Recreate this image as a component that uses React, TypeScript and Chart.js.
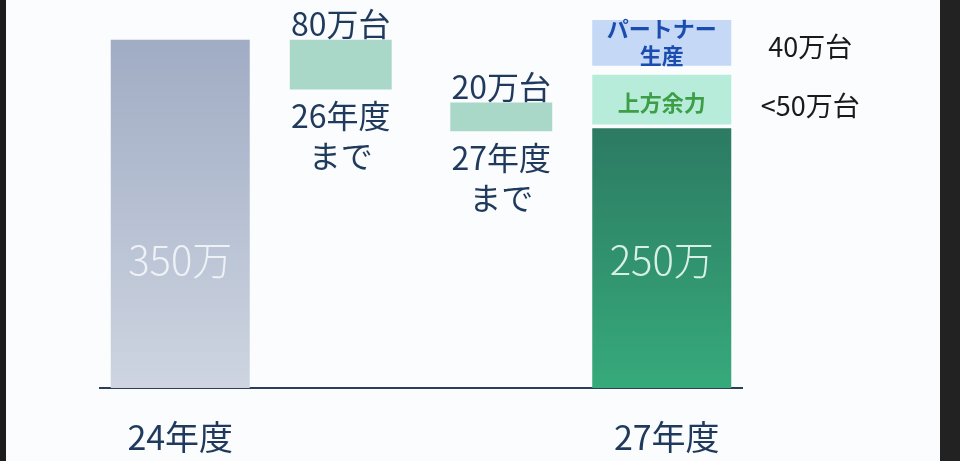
import { useEffect, useRef } from "react";
import { Chart, registerables } from "chart.js";
Chart.register(...registerables);

// values in 万台 (schematic scale)
const categories = ["24年度", "26年度まで", "27年度まで", "27年度"];
const axisLabels = ["24年度", "", "", "27年度"];
const totals = [350, null, null, 261];
const totalLabels = ["350万", "", "", "250万"];
const steps = [null, [300, 350], [258, 287], null];
const stepLabels = ["", "80万台", "20万台", ""];
const stepNotes = [[], ["26年度", "まで"], ["27年度", "まで"], []];
const upside = [null, null, null, [265, 315]];
const partner = [null, null, null, [324, 370]];
const boxLabels = { upside: ["上方余力"], partner: ["パートナー", "生産"] };
const sideLabels = ["40万台", "<50万台"];

const FONT = '"Noto Sans CJK JP", "Noto Sans", sans-serif';

const labelPlugin = {
  id: "labels",
  afterDatasetsDraw(chart: any) {
    const ctx = chart.ctx;
    ctx.save();
    ctx.textAlign = "center";
    ctx.textBaseline = "middle";

    chart.getDatasetMeta(0).data.forEach((bar: any, i: number) => {
      if (!totalLabels[i]) return;
      ctx.font = `300 40px ${FONT}`;
      ctx.fillStyle = i === 0 ? "rgba(240,243,248,0.95)" : "rgba(225,245,235,0.95)";
      ctx.fillText(totalLabels[i], bar.x, bar.base - 128);
    });

    // category labels under the axis
    const xs = chart.scales.x;
    ctx.font = `34px ${FONT}`;
    ctx.fillStyle = "#1f3a5c";
    axisLabels.forEach((t, i) => {
      if (t) ctx.fillText(t, xs.getPixelForValue(i) + (i === 3 ? 5 : 0), chart.chartArea.bottom + 49);
    });

    chart.getDatasetMeta(1).data.forEach((bar: any, i: number) => {
      if (!stepLabels[i]) return;
      ctx.font = `32px ${FONT}`;
      ctx.fillStyle = "#1f3a5c";
      ctx.fillText(stepLabels[i], bar.x, bar.y - 16);
      stepNotes[i].forEach((t, k) => {
        ctx.fillText(t, bar.x, bar.base + 26 + k * 40);
      });
    });

    const up = chart.getDatasetMeta(2).data[3];
    const pa = chart.getDatasetMeta(3).data[3];
    ctx.font = `bold 22px ${FONT}`;
    ctx.fillStyle = "#3d9e47";
    ctx.fillText(boxLabels.upside[0], up.x, (up.y + up.base) / 2 + 3);
    ctx.fillStyle = "#1b4db0";
    const pm = (pa.y + pa.base) / 2;
    ctx.fillText(boxLabels.partner[0], pa.x, pm - 14);
    ctx.fillText(boxLabels.partner[1], pa.x, pm + 13);

    ctx.font = `27px ${FONT}`;
    ctx.fillStyle = "#1a1a1a";
    const sx = pa.x + pa.width / 2 + 79;
    ctx.fillText(sideLabels[0], sx, pm + 4);
    ctx.fillText(sideLabels[1], sx, (up.y + up.base) / 2 + 6);
    ctx.restore();
  },
};

function barGradient(ctx: any, top: string, bottom: string, fallback: string) {
  const chart = ctx.chart;
  const y = chart.scales?.y;
  const v = ctx.raw;
  if (!y || v == null || !chart.chartArea) return fallback;
  const g = chart.ctx.createLinearGradient(0, y.getPixelForValue(v), 0, y.getPixelForValue(0));
  g.addColorStop(0, top);
  g.addColorStop(1, bottom);
  return g;
}

export default function App() {
  const chartRef = useRef<HTMLCanvasElement>(null);
  const chartInstance = useRef<Chart | null>(null);

  useEffect(() => {
    if (!chartRef.current) return;
    if (chartInstance.current) chartInstance.current.destroy();

    chartInstance.current = new Chart(chartRef.current, {
      type: "bar",
      data: {
        labels: categories,
        datasets: [
          {
            data: totals,
            backgroundColor: (c: any) =>
              c.dataIndex === 0
                ? barGradient(c, "#a0acc4", "#ced5e1", "#b5c0d3")
                : barGradient(c, "#2c7a62", "#36aa7b", "#319275"),
            barPercentage: 0.866,
            grouped: false,
          },
          {
            data: steps as any,
            backgroundColor: "#aad8c8",
            barPercentage: 0.635,
            grouped: false,
          },
          {
            data: upside as any,
            backgroundColor: "#b7ecda",
            barPercentage: 0.866,
            grouped: false,
          },
          {
            data: partner as any,
            backgroundColor: "#c5d8f5",
            barPercentage: 0.866,
            grouped: false,
          },
        ],
      },
      options: {
        responsive: true,
        maintainAspectRatio: false,
        animation: false,
        layout: { padding: { left: 100, right: 218, top: 10, bottom: 73 } },
        plugins: {
          legend: { display: false },
          tooltip: { enabled: false },
        },
        datasets: { bar: { categoryPercentage: 1 } },
        scales: {
          x: {
            grid: { display: false, drawTicks: false },
            border: { display: true, color: "#2b3f5a", width: 2 },
            ticks: { display: false },
          },
          y: { display: false, min: 0, max: 380 },
        },
      },
      plugins: [labelPlugin],
    });

    return () => {
      chartInstance.current?.destroy();
    };
  }, []);

  return (
    <div style={{ position: "fixed", left: 0, top: 0, width: 960, height: 461, background: "#fbfcfd" }}>
      <canvas ref={chartRef}></canvas>
      <div style={{ position: "absolute", left: 0, top: 0, width: 6, height: 461, background: "#1c1c1c" }} />
      <div style={{ position: "absolute", right: 0, top: 0, width: 20, height: 461, background: "#222" }} />
    </div>
  );
}
